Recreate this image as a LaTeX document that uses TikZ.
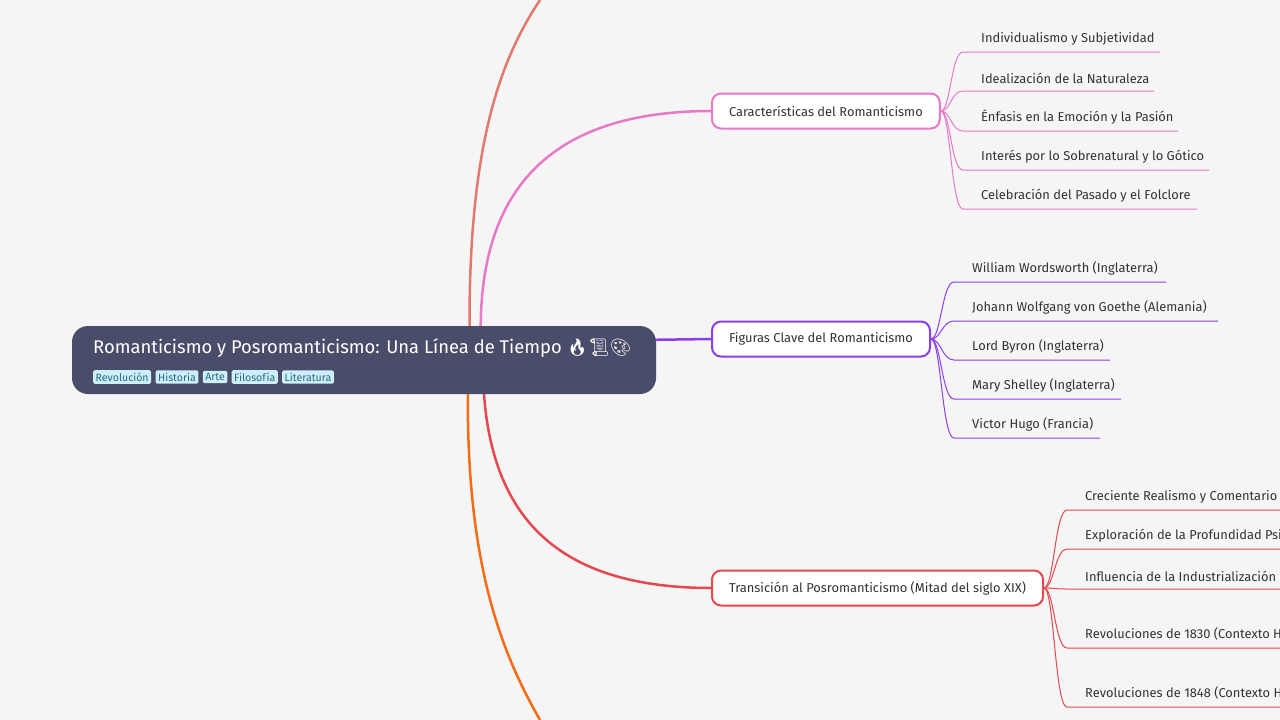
\documentclass[tikz,border=0pt]{standalone}
\usepackage{fontspec}
\setmainfont{Fira Sans}[Scale=0.92]
\newfontfamily\emojifont{Noto Emoji}
\usetikzlibrary{calc,positioning}
\definecolor{bg}{HTML}{F5F5F5}
\definecolor{rootc}{HTML}{4A4D6A}
\definecolor{tagc}{HTML}{CDEFFA}
\definecolor{tagt}{HTML}{2C6B80}
\definecolor{topc}{HTML}{E07A6F}
\definecolor{pinkc}{HTML}{E879C9}
\definecolor{purc}{HTML}{8B3FE8}
\definecolor{redc}{HTML}{E5484D}
\definecolor{orc}{HTML}{F76B15}
\definecolor{txt}{HTML}{333333}
\tikzset{
  topic/.style={draw=#1, line width=2pt, fill=white, rounded corners=9pt, minimum height=35pt, inner xsep=17pt, anchor=west, text=txt, font=\fontsize{14}{16}\selectfont},
  tag/.style={fill=tagc, rounded corners=1.5pt, inner sep=2.5pt, text=tagt, font=\fontsize{11.5}{12}\selectfont, anchor=west},
  leaf/.style={anchor=south west, inner xsep=0pt, inner ysep=7pt, text=txt, font=\fontsize{14}{16}\selectfont},
  branch/.style={line width=2.5pt, draw=#1},
  twig/.style={line width=1pt, draw=#1}
}
% leaf: colour, parent point, underline start x, underline end x, y, text
\newcommand\leafitem[6]{
  \draw[twig=#1] (#2) .. controls ($(#2)+(10,0)$) and (#3-12,#5) .. (#3,#5) -- (#4,#5);
  \node[leaf] at (#3+18,#5) {#6};
}
\begin{document}
\begin{tikzpicture}[x=1pt,y=-1pt]
\useasboundingbox (0,0) rectangle (1280,720);
\fill[bg] (0,0) rectangle (1280,720);
\clip (0,0) rectangle (1280,720);

% main branches
\draw[branch=topc] (470,360) .. controls (465,150) and (500,60) .. (540,0);
\draw[branch=orc] (468,380) .. controls (465,560) and (500,650) .. (540,720);
\draw[branch=pinkc] (481,345) .. controls (475,180) and (560,111) .. (712,111);
\draw[branch=redc] (483,370) .. controls (485,520) and (560,588) .. (712,588);
\draw[branch=purc] (640,340) -- (712,339);

% root
\fill[rootc, rounded corners=16pt] (72,326) rectangle (656,394);
\node[anchor=west, text=white, inner sep=0pt, font=\fontsize{20}{22}\selectfont] (root) at (93,348)
  {Romanticismo y Posromanticismo: Una Línea de Tiempo {\emojifont\fontsize{17}{18}\selectfont 🔥📜🎨}};
\node[tag] (t1) at (93,377) {Revolución};
\node[tag, right=4pt of t1] (t2) {Historia};
\node[tag, right=4pt of t2] (t3) {Arte};
\node[tag, right=4pt of t3] (t4) {Filosofía};
\node[tag, right=4pt of t4] (t5) {Literatura};

% topics
\node[topic=pinkc] (car) at (711,111) {Características del Romanticismo};
\node[topic=purc] (fig) at (711,339) {Figuras Clave del Romanticismo};
\node[topic=redc] (tra) at (711,588) {Transición al Posromanticismo (Mitad del siglo XIX)};

% leaves
\leafitem{pinkc}{car.east}{963}{1160}{52}{Individualismo y Subjetividad}
\leafitem{pinkc}{car.east}{963}{1154}{91}{Idealización de la Naturaleza}
\leafitem{pinkc}{car.east}{963}{1178}{131}{Énfasis en la Emoción y la Pasión}
\leafitem{pinkc}{car.east}{963}{1209}{170}{Interés por lo Sobrenatural y lo Gótico}
\leafitem{pinkc}{car.east}{963}{1197}{209}{Celebración del Pasado y el Folclore}

\leafitem{purc}{fig.east}{954}{1166}{282}{William Wordsworth (Inglaterra)}
\leafitem{purc}{fig.east}{954}{1218}{321}{Johann Wolfgang von Goethe (Alemania)}
\leafitem{purc}{fig.east}{954}{1110}{360}{Lord Byron (Inglaterra)}
\leafitem{purc}{fig.east}{954}{1121}{399}{Mary Shelley (Inglaterra)}
\leafitem{purc}{fig.east}{954}{1100}{438}{Victor Hugo (Francia)}

\leafitem{redc}{tra.east}{1067}{1290}{510}{Creciente Realismo y Comentario Social}
\leafitem{redc}{tra.east}{1067}{1290}{549}{Exploración de la Profundidad Psicológica}
\leafitem{redc}{tra.east}{1067}{1290}{589}{Influencia de la Industrialización}
\leafitem{redc}{tra.east}{1067}{1290}{648}{Revoluciones de 1830 (Contexto Histórico)}
\leafitem{redc}{tra.east}{1067}{1290}{707}{Revoluciones de 1848 (Contexto Histórico)}
\end{tikzpicture}
\end{document}
